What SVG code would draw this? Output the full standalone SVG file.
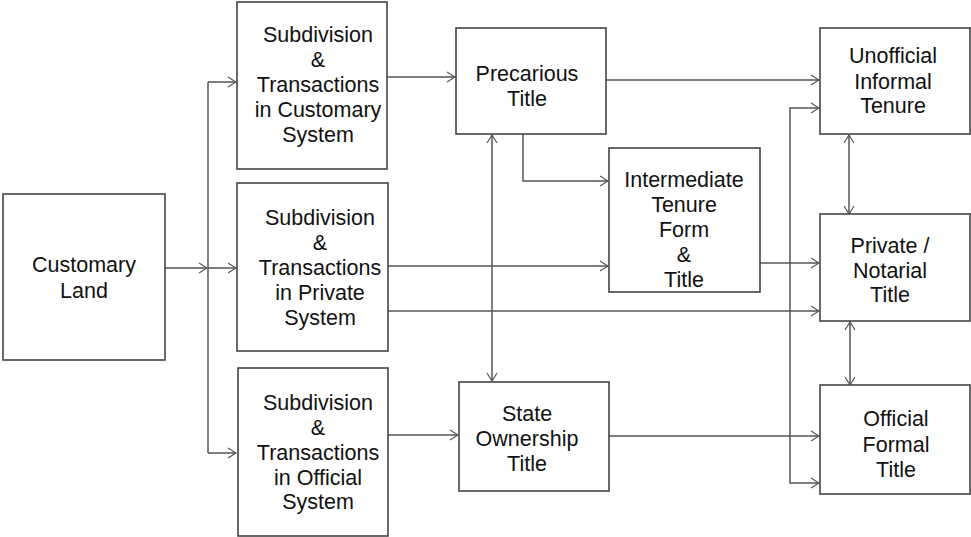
<svg xmlns="http://www.w3.org/2000/svg" width="971" height="537" viewBox="0 0 971 537">
<defs>
<marker id="arr" markerWidth="10" markerHeight="12" refX="9" refY="6" orient="auto-start-reverse" markerUnits="userSpaceOnUse">
<path d="M1,1 L9,6 L1,11" fill="none" stroke="#555" stroke-width="1.2"/>
</marker>
<style>
.box{fill:#fff;stroke:#444;stroke-width:1.6}
.t{font-family:"Liberation Sans",Arial,sans-serif;font-size:21.5px;fill:#111;text-anchor:middle}
.c{fill:none;stroke:#555;stroke-width:1.5}
.a{marker-end:url(#arr)}
.b{marker-start:url(#arr);marker-end:url(#arr)}
</style>
</defs>
<rect width="971" height="537" fill="#fff"/>
<g id="connectors">
<path class="c a" d="M164,268 H207"/>
<path class="c" d="M208,82 V453"/>
<path class="c a" d="M208,82 H236"/>
<path class="c a" d="M208,268 H236"/>
<path class="c a" d="M208,453 H236"/>
<path class="c a" d="M387,77 H455"/>
<path class="c a" d="M606,80 H819"/>
<path class="c a" d="M523,134 V181 H608"/>
<path class="c b" d="M492,135 V381"/>
<path class="c a" d="M388,266 H608"/>
<path class="c a" d="M388,311 H819"/>
<path class="c a" d="M760,263 H819"/>
<path class="c b" d="M819,108 H790 V483 H819"/>
<path class="c b" d="M849,135 V214"/>
<path class="c b" d="M850,322 V385"/>
<path class="c a" d="M388,435 H458"/>
<path class="c a" d="M609,436 H819"/>
</g>
<g id="customary-land">
<rect class="box" x="3" y="194" width="162" height="166"/>
<text class="t" x="84" y="272">Customary</text>
<text class="t" x="84" y="298">Land</text>
</g>
<g id="sub-customary">
<rect class="box" x="237" y="2" width="150" height="167"/>
<text class="t" x="318" y="42">Subdivision</text>
<text class="t" x="318" y="67">&amp;</text>
<text class="t" x="318" y="92">Transactions</text>
<text class="t" x="318" y="117">in Customary</text>
<text class="t" x="318" y="142">System</text>
</g>
<g id="sub-private">
<rect class="box" x="237" y="183" width="151" height="168"/>
<text class="t" x="320" y="225">Subdivision</text>
<text class="t" x="320" y="250">&amp;</text>
<text class="t" x="320" y="275">Transactions</text>
<text class="t" x="320" y="300">in Private</text>
<text class="t" x="320" y="325">System</text>
</g>
<g id="sub-official">
<rect class="box" x="238" y="368" width="150" height="168"/>
<text class="t" x="318" y="410">Subdivision</text>
<text class="t" x="318" y="435">&amp;</text>
<text class="t" x="318" y="460">Transactions</text>
<text class="t" x="318" y="485">in Official</text>
<text class="t" x="318" y="509">System</text>
</g>
<g id="precarious">
<rect class="box" x="456" y="28" width="150" height="106"/>
<text class="t" x="527" y="81">Precarious</text>
<text class="t" x="527" y="106">Title</text>
</g>
<g id="intermediate">
<rect class="box" x="609" y="148" width="151" height="144"/>
<text class="t" x="684" y="187">Intermediate</text>
<text class="t" x="684" y="212">Tenure</text>
<text class="t" x="684" y="237">Form</text>
<text class="t" x="684" y="262">&amp;</text>
<text class="t" x="684" y="287">Title</text>
</g>
<g id="state-ownership">
<rect class="box" x="459" y="382" width="150" height="109"/>
<text class="t" x="527" y="421">State</text>
<text class="t" x="527" y="446">Ownership</text>
<text class="t" x="527" y="471">Title</text>
</g>
<g id="unofficial">
<rect class="box" x="820" y="28" width="150" height="106"/>
<text class="t" x="893" y="63">Unofficial</text>
<text class="t" x="893" y="89">Informal</text>
<text class="t" x="893" y="113">Tenure</text>
</g>
<g id="private-notarial">
<rect class="box" x="820" y="214" width="150" height="107"/>
<text class="t" x="890" y="253">Private /</text>
<text class="t" x="890" y="278">Notarial</text>
<text class="t" x="890" y="302">Title</text>
</g>
<g id="official-formal">
<rect class="box" x="820" y="385" width="150" height="109"/>
<text class="t" x="896" y="426">Official</text>
<text class="t" x="896" y="452">Formal</text>
<text class="t" x="896" y="477">Title</text>
</g>
</svg>
